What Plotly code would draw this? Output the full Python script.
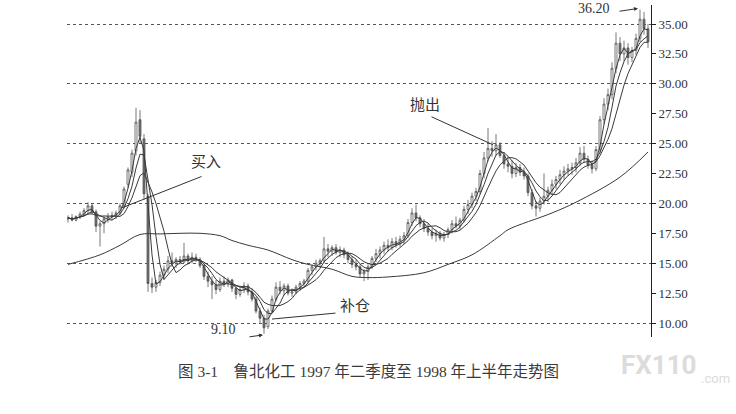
import plotly.graph_objects as go
import pandas as pd

# daily bars, index 0 = first day shown (1997 Q2) ... last = mid 1998
opens = [18.7, 18.8, 18.6, 18.9, 19.1, 19.4, 19.8, 19.3, 18.1, 18.3,
         18.7, 18.9, 19.0, 19.2, 19.8, 21.6, 22.6, 24.4, 27.0, 25.4,
         20.6, 13.3, 13.0, 13.4, 14.0, 14.5, 15.2, 15.0, 15.3, 15.1,
         15.6, 15.2, 15.5, 15.3, 14.8, 13.9, 13.5, 13.2, 12.8, 13.5,
         13.3, 13.6, 12.9, 12.4, 12.8, 13.1, 12.6, 12.0, 11.0, 10.4,
         9.7, 11.0, 12.0, 13.0, 12.7, 13.1, 12.5, 12.6, 13.0, 13.3,
         13.5, 14.4, 14.7, 15.0, 15.2, 16.2, 16.0, 16.3, 15.9, 16.1,
         15.7, 15.3, 14.9, 14.7, 14.1, 14.3, 14.7, 15.4, 15.8, 16.1,
         16.5, 16.3, 16.8, 16.6, 17.0, 17.3, 18.4, 19.2, 18.8, 18.3,
         17.9, 17.6, 17.3, 17.5, 17.1, 17.4, 17.8, 18.3, 18.1, 18.6,
         19.5, 19.9, 20.6, 21.0, 22.5, 23.8, 24.6, 24.4, 24.9, 24.0,
         23.3, 23.1, 22.5, 23.0, 22.6, 22.3, 20.9, 19.8, 19.6, 20.2,
         20.6, 21.1, 21.6, 22.0, 22.4, 22.7, 22.9, 23.0, 23.4, 24.2,
         23.7, 23.2, 22.9, 24.5, 27.0, 28.3, 29.1, 31.3, 33.4, 32.5,
         33.0, 32.2, 32.8, 33.8, 35.4, 34.6]
highs = [19.0, 19.1, 19.0, 19.3, 19.6, 20.1, 20.0, 19.5, 18.5, 18.9,
         19.2, 19.3, 19.4, 20.0, 21.4, 23.0, 24.5, 28.0, 27.8, 25.8,
         20.8, 13.8, 13.6, 14.3, 14.8, 15.6, 15.9, 15.5, 15.6, 16.7,
         15.8, 15.9, 15.8, 15.5, 15.0, 14.3, 13.9, 13.6, 13.8, 13.9,
         13.8, 13.7, 13.1, 13.0, 13.4, 13.3, 12.9, 12.2, 11.3, 10.7,
         11.2, 12.3, 13.4, 13.5, 13.3, 13.3, 12.9, 13.2, 13.5, 13.7,
         14.6, 14.9, 15.3, 15.4, 17.2, 16.6, 16.5, 16.6, 16.4, 16.3,
         16.0, 15.6, 15.3, 14.9, 14.5, 14.9, 15.6, 16.2, 16.4, 16.8,
         17.0, 17.1, 17.2, 17.3, 17.6, 18.7, 19.6, 19.9, 19.0, 18.7,
         18.3, 17.9, 17.8, 17.7, 17.6, 18.0, 18.6, 18.9, 18.8, 19.8,
         20.3, 20.9, 21.3, 22.8, 24.3, 26.3, 25.2, 25.8, 25.1, 24.3,
         23.9, 23.6, 23.4, 23.3, 23.0, 22.5, 21.2, 20.2, 20.5, 22.5,
         21.4, 22.0, 22.3, 22.8, 23.1, 23.3, 23.4, 23.8, 24.7, 24.8,
         24.0, 23.6, 24.8, 27.3, 28.8, 29.6, 31.8, 34.3, 33.9, 33.6,
         33.4, 33.1, 34.2, 36.2, 36.0, 35.0]
lows = [18.4, 18.5, 18.5, 18.7, 18.9, 19.2, 19.1, 17.6, 16.4, 17.5,
        18.4, 18.6, 18.7, 19.0, 19.6, 21.3, 22.2, 24.0, 25.0, 20.3,
        12.6, 12.5, 12.6, 13.1, 13.6, 14.2, 14.7, 14.6, 14.9, 15.0,
        14.9, 15.0, 15.1, 14.6, 13.6, 13.0, 12.0, 12.4, 12.6, 13.0,
        13.0, 12.6, 12.0, 12.2, 12.5, 12.3, 11.8, 10.8, 10.0, 9.1,
        9.5, 10.8, 11.8, 12.4, 12.3, 12.3, 12.2, 12.4, 12.7, 13.0,
        13.3, 14.0, 14.4, 14.6, 15.0, 15.5, 15.6, 15.7, 15.5, 15.4,
        15.0, 14.6, 14.4, 13.8, 13.5, 13.6, 14.5, 15.1, 15.4, 15.8,
        16.0, 16.1, 16.3, 16.4, 16.6, 17.1, 18.1, 18.5, 18.0, 17.6,
        17.3, 17.0, 16.8, 16.9, 16.8, 17.1, 17.5, 17.9, 17.8, 18.4,
        19.1, 19.6, 20.2, 20.8, 22.1, 23.5, 23.9, 24.0, 23.8, 22.9,
        22.6, 22.1, 22.2, 22.3, 22.0, 20.6, 19.5, 18.9, 19.3, 19.9,
        20.1, 20.7, 21.2, 21.6, 22.0, 22.3, 22.4, 22.6, 23.1, 23.4,
        22.9, 22.5, 22.7, 24.2, 26.6, 27.8, 28.7, 30.9, 31.9, 31.9,
        31.6, 31.8, 32.4, 33.5, 34.1, 33.0]
closes = [18.8, 18.6, 18.9, 19.1, 19.4, 19.8, 19.3, 18.1, 18.3, 18.7,
          18.9, 19.0, 19.2, 19.8, 21.2, 22.8, 24.2, 26.8, 25.6, 20.8,
          13.3, 13.0, 13.4, 14.0, 14.5, 15.2, 15.0, 15.3, 15.1, 15.6,
          15.2, 15.5, 15.3, 14.8, 13.9, 13.5, 13.2, 12.8, 13.5, 13.3,
          13.6, 12.9, 12.4, 12.8, 13.1, 12.6, 12.0, 11.0, 10.4, 9.6,
          11.0, 12.0, 13.0, 12.7, 13.1, 12.5, 12.6, 13.0, 13.3, 13.5,
          14.4, 14.7, 15.0, 15.2, 16.2, 16.0, 16.3, 15.9, 16.1, 15.7,
          15.3, 14.9, 14.7, 14.1, 14.3, 14.7, 15.4, 15.8, 16.1, 16.5,
          16.3, 16.8, 16.6, 17.0, 17.3, 18.4, 19.2, 18.8, 18.3, 17.9,
          17.6, 17.3, 17.5, 17.1, 17.4, 17.8, 18.3, 18.1, 18.6, 19.5,
          19.9, 20.6, 21.0, 22.5, 23.8, 24.6, 24.4, 24.9, 24.0, 23.3,
          23.1, 22.5, 23.0, 22.6, 22.3, 20.9, 19.8, 19.6, 20.2, 20.6,
          21.1, 21.6, 22.0, 22.4, 22.7, 22.9, 23.0, 23.4, 24.2, 23.7,
          23.2, 22.9, 24.5, 27.0, 28.3, 29.1, 31.3, 33.4, 32.5, 33.0,
          32.2, 32.8, 33.8, 35.4, 34.6, 33.5]

# long moving average at a few days
ma_long_day = [0, 8, 13, 18, 23, 28, 33, 38, 41, 45, 50, 56, 60, 66, 71,
               75, 80, 89, 95, 101, 108, 110, 121, 127, 138, 145]
ma_long = [14.9, 15.7, 16.5, 17.4, 17.45, 17.5, 17.5, 17.3, 16.9, 16.5,
           16.1, 15.3, 14.9, 14.5, 13.9, 13.8, 13.85, 14.2, 14.9, 15.7,
           17.3, 17.8, 19.2, 20.1, 22.2, 24.3]

ma_windows = [3, 5, 8]
y_ticks = [10, 12.5, 15, 17.5, 20, 22.5, 25, 27.5, 30, 32.5, 35]

days = list(range(len(closes)))
ink = '#333333'
serif = 'Liberation Serif, Noto Sans CJK SC'

fig = go.Figure()
fig.add_trace(go.Candlestick(
    x=days, open=opens, high=highs, low=lows, close=closes,
    increasing=dict(line=dict(color='#555555', width=0.8), fillcolor='white'),
    decreasing=dict(line=dict(color='#555555', width=0.8), fillcolor='#6e6e6e'),
    whiskerwidth=0, hoverinfo='skip'))

s = pd.Series(closes)
for w in ma_windows:
    fig.add_scatter(x=days, y=s.rolling(w, min_periods=1).mean(), mode='lines',
                    line=dict(color='#3a3a3a', width=1), hoverinfo='skip')

fig.add_scatter(x=ma_long_day, y=ma_long, mode='lines',
                line=dict(color='#3a3a3a', width=1, shape='spline'), hoverinfo='skip')

yrange = [8.83, 36.59]
fig.update_layout(
    width=736, height=414,
    margin=dict(l=67, r=85, t=5, b=77),
    paper_bgcolor='white', plot_bgcolor='white',
    showlegend=False,
    xaxis=dict(range=[-0.25, 145.75], visible=False, rangeslider=dict(visible=False)),
    yaxis=dict(range=yrange, dtick=5, tick0=0, showgrid=True, griddash='dot',
               gridcolor='#555555', gridwidth=1, showticklabels=False,
               zeroline=False, showline=False),
    yaxis2=dict(range=yrange, overlaying='y', side='right', tickvals=y_ticks,
                tickformat='.2f', showgrid=False, zeroline=False,
                showline=True, linecolor='#222222', linewidth=1,
                ticks='outside', ticklen=4, tickcolor='#222222',
                tickfont=dict(family=serif, size=13, color=ink)),
)
# dummy trace so the right axis is drawn
fig.add_scatter(x=[None], y=[None], yaxis='y2', showlegend=False, hoverinfo='skip')


def label(text, x, y, size=14, yref='y'):
    fig.add_annotation(x=x, y=y, yref=yref, text=text, showarrow=False,
                       font=dict(family=serif, size=size, color=ink))


def pointer(x0, y0, x1, y1, head=0):
    fig.add_annotation(x=x1, y=y1, ax=x0, ay=y0, axref='x', ayref='y', text='',
                       showarrow=True, arrowhead=head, arrowsize=0.8, arrowwidth=1,
                       arrowcolor=ink, standoff=0, startstandoff=0)


label('买入', 34.5, 23.5, 15)
pointer(33.75, 22.3, 13.25, 19.6)
label('抛出', 89.25, 28.2, 15)
pointer(90.5, 27.3, 106.25, 24.9)
label('补仓', 71.75, 11.4, 15)
pointer(67.25, 10.84, 51, 10.33)
label('9.10', 38.8, -0.006, 14, yref='paper')
pointer(45.0, 8.83, 48.75, 9.0, head=2)
label('36.20', 131.5, 36.3, 14)
pointer(137.5, 36.05, 142.5, 36.3, head=2)

fig.add_annotation(xref='paper', yref='paper', x=0.517, y=-0.1355,
                   text='图 3-1　鲁北化工 1997 年二季度至 1998 年上半年走势图',
                   showarrow=False, font=dict(family=serif, size=15.5, color='#3a3a3a'))
fig.add_annotation(xref='paper', yref='paper', x=1.083, y=-0.135, xanchor='right',
                   text='<b>FX110</b>', showarrow=False,
                   font=dict(family='Roboto', size=26, color='#dcdcdc'))
fig.add_annotation(xref='paper', yref='paper', x=1.138, y=-0.155, xanchor='right',
                   text='.com', showarrow=False,
                   font=dict(family='Roboto', size=13, color='#dcdcdc'))

# the page's default body margin would push the 736x414 figure off by 8px
fig.write_html("out.html", config={'displayModeBar': False},
               post_script="document.body.style.margin='0';")
